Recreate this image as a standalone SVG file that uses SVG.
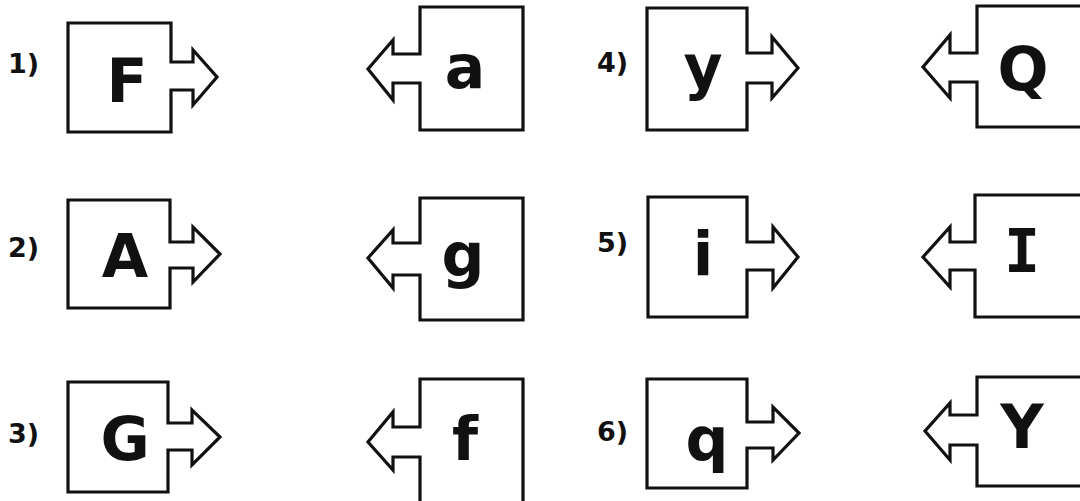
<svg xmlns="http://www.w3.org/2000/svg" width="1080" height="501" viewBox="0 0 1080 501">
<style>
.p{fill:#fff;stroke:#111;stroke-width:3.2;stroke-linejoin:miter}
.l{font-family:"DejaVu Sans",sans-serif;font-weight:bold;font-size:60px;fill:#111;text-anchor:middle}
.m{font-family:"DejaVu Sans Mono",monospace}
.n{font-family:"DejaVu Sans",sans-serif;font-weight:bold;font-size:27px;fill:#111}
</style>
<rect width="1080" height="501" fill="#fff"/>
<g id="connectors"></g>
<g id="label1"><text class="n" x="8" y="73">1)</text></g>
<g id="label2"><text class="n" x="8" y="257">2)</text></g>
<g id="label3"><text class="n" x="8" y="443">3)</text></g>
<g id="label4"><text class="n" x="597" y="72">4)</text></g>
<g id="label5"><text class="n" x="597" y="252">5)</text></g>
<g id="label6"><text class="n" x="597" y="441">6)</text></g>
<g id="pieceF"><path class="p" d="M68 23 H171 V62 H193 V50 L217 77 L193 105 V90 H171 V132 H68 Z"/><text class="l" x="127" y="102">F</text></g>
<g id="pieceA"><path class="p" d="M68 200 H170 V242 H193 V227 L220 254 L193 282 V268 H170 V308 H68 Z"/><text class="l" x="125" y="277">A</text></g>
<g id="pieceG"><path class="p" d="M68 382 H168 V423 H192 V410 L220 437 L192 465 V450 H168 V492 H68 Z"/><text class="l" x="125" y="460">G</text></g>
<g id="piecey"><path class="p" d="M647 8 H747 V53 H772 V37 L798 68 L772 98 V83 H747 V130 H647 Z"/><text class="l" x="703" y="88">y</text></g>
<g id="piecei"><path class="p" d="M648 197 H747 V242 H773 V227 L798 257 L773 288 V270 H747 V317 H648 Z"/><text class="l" x="703" y="275">i</text></g>
<g id="pieceq"><path class="p" d="M647 379 H747 V422 H773 V407 L799 433 L773 460 V448 H747 V488 H647 Z"/><text class="l" x="707" y="460">q</text></g>
<g id="piecea"><path class="p" d="M523 7 H420 V54 H393 V40 L368 69 L393 100 V83 H420 V130 H523 Z"/><text class="l" x="465" y="88">a</text></g>
<g id="pieceg"><path class="p" d="M523 198 H420 V243 H393 V230 L368 258 L393 288 V275 H420 V320 H523 Z"/><text class="l" x="463" y="276">g</text></g>
<g id="piecef"><path class="p" d="M523 379 H420 V427 H393 V412 L368 442 L393 470 V457 H420 V505 H523 Z"/><text class="l" x="465" y="460">f</text></g>
<g id="pieceQ"><path class="p" d="M1085 6 H977 V53 H950 V35 L923 67 L950 98 V82 H977 V127 H1085 Z"/><text class="l" x="1023" y="90">Q</text></g>
<g id="pieceI"><path class="p" d="M1085 195 H975 V242 H950 V227 L923 257 L950 287 V270 H975 V317 H1085 Z"/><text class="l m" x="1022" y="272">I</text></g>
<g id="pieceY"><path class="p" d="M1085 377 H977 V415 H950 V403 L925 431 L950 460 V445 H977 V486 H1085 Z"/><text class="l" x="1022" y="448">Y</text></g>
</svg>
